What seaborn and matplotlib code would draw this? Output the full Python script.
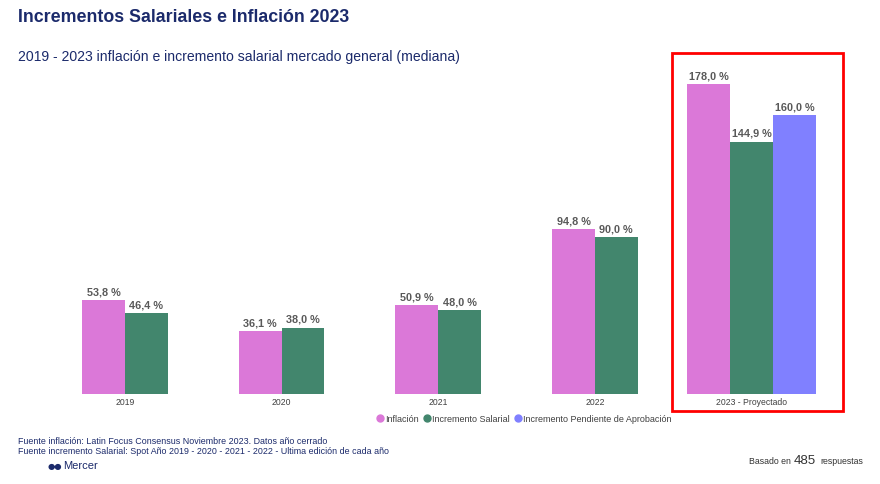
import matplotlib
matplotlib.use("Agg")
import matplotlib.pyplot as plt
import seaborn as sns
import pandas as pd
import numpy as np
from matplotlib.patches import Rectangle
from matplotlib.lines import Line2D

sns.set_theme(style="white")
plt.rcParams['font.family'] = ['Liberation Sans', 'DejaVu Sans']

# ---- data ----
years = ["2019", "2020", "2021", "2022", "2023 - Proyectado"]
inflacion = [53.8, 36.1, 50.9, 94.8, 178.0]
incremento = [46.4, 38.0, 48.0, 90.0, 144.9]
pendiente = [None, None, None, None, 160.0]
series_names = ["Inflación", "Incremento Salarial", "Incremento Pendiente de Aprobación"]
colors = ["#DB78D8", "#42866D", "#8080FF"]

rows = []
for i, y in enumerate(years):
    for name, vals in zip(series_names, [inflacion, incremento, pendiente]):
        if vals[i] is not None:
            rows.append({"year": y, "serie": name, "valor": vals[i]})
df = pd.DataFrame(rows)

fig = plt.figure(figsize=(8.8, 4.84), dpi=100)
ax = fig.add_axes([0.053, 0.186, 0.89, 0.72])

sns.barplot(data=df, x="year", y="valor", hue="serie", order=years,
            hue_order=series_names, palette=colors, width=0.82,
            dodge=True, ax=ax, legend=False, saturation=1,
            edgecolor="none", linewidth=0)

# Center the groups that have only two bars
bw = 0.82 / 3
has_third = [v is not None for v in pendiente]
for p in ax.patches:
    cx = p.get_x() + p.get_width() / 2
    idx = int(round(cx))
    if 0 <= idx < len(years) and not has_third[idx]:
        p.set_x(p.get_x() + bw / 2)

# value labels
for p in ax.patches:
    h = p.get_height()
    if np.isnan(h):
        continue
    ax.annotate(f"{h:.1f} %".replace(".", ","),
                (p.get_x() + p.get_width() / 2, h),
                xytext=(0, 2), textcoords="offset points",
                ha="center", va="bottom", fontsize=7.8, fontweight="bold",
                color="#595959")

ax.set_ylim(0, 200)
ax.set_xlim(-0.5, 4.5)
ax.set_xlabel("")
ax.set_ylabel("")
ax.set_yticks([])
ax.tick_params(axis="x", labelsize=6.2, colors="#404040", length=0, pad=3)
for s in ax.spines.values():
    s.set_visible(False)

# legend
handles = [Line2D([0], [0], marker="o", linestyle="none", markersize=5,
                  markerfacecolor=c, markeredgecolor=c) for c in colors]
fig.legend(handles, series_names, loc="center", ncol=3,
           bbox_to_anchor=(523 / 880, 1 - 419 / 484), frameon=False,
           fontsize=6.5, handletextpad=0.0, columnspacing=0.3,
           handlelength=1.2, labelcolor="#404040", borderaxespad=0)

# red highlight box
fig.patches.append(Rectangle((672 / 880, 1 - 411 / 484), (843 - 672) / 880,
                             (411 - 53) / 484, transform=fig.transFigure,
                             fill=False, edgecolor="#FF0000", linewidth=2))

navy = "#1B2A6B"
fig.text(18 / 880, 1 - 18 / 484, "Incrementos Salariales e Inflación 2023",
         fontsize=12.8, fontweight="bold", color=navy, ha="left", va="center")
fig.text(18 / 880, 1 - 57 / 484,
         "2019 - 2023 inflación e incremento salarial mercado general (mediana)",
         fontsize=10.1, color=navy, ha="left", va="center")
fig.text(18 / 880, 1 - 441 / 484,
         "Fuente inflación: Latin Focus Consensus Noviembre 2023. Datos año cerrado",
         fontsize=6.4, color=navy, ha="left", va="center")
fig.text(18 / 880, 1 - 452 / 484,
         "Fuente incremento Salarial: Spot Año 2019 - 2020 - 2021 - 2022 - Ultima edición de cada año",
         fontsize=6.4, color=navy, ha="left", va="center")
fig.text(48 / 880, 1 - 466 / 484, "●●", fontsize=6, color=navy,
         ha="left", va="center", family=["DejaVu Sans"])
fig.text(63 / 880, 1 - 466 / 484, "Mercer", fontsize=8, color=navy,
         ha="left", va="center")
fig.text(791 / 880, 1 - 462 / 484, "Basado en", fontsize=6.3, color="#333333",
         ha="right", va="center")
fig.text(794 / 880, 1 - 461 / 484, "485", fontsize=9.5, color="#333333",
         ha="left", va="center")
fig.text(820 / 880, 1 - 462 / 484, "respuestas", fontsize=6.3, color="#333333",
         ha="left", va="center")

fig.savefig("out.png", dpi=100, facecolor="white")
